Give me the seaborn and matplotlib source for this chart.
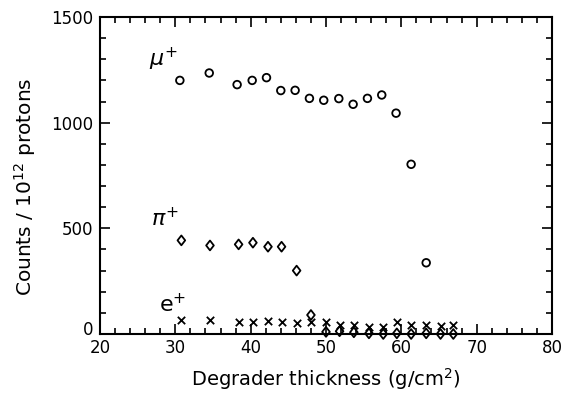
import matplotlib
matplotlib.use("Agg")
import matplotlib.pyplot as plt
import matplotlib.transforms as mtransforms
from matplotlib.path import Path
import seaborn as sns
import pandas as pd
from matplotlib.ticker import MultipleLocator

# Data
mu_x = [30.6, 34.5, 38.2, 40.2, 42.1, 44.0, 45.9, 47.8, 49.7, 51.7, 53.6, 55.5, 57.4, 59.3, 61.3, 63.3]
mu_y = [1200, 1235, 1180, 1200, 1213, 1152, 1153, 1115, 1106, 1114, 1087, 1115, 1131, 1045, 803, 337]

pi_x = [30.8, 34.6, 38.4, 40.3, 42.3, 44.1, 46.1, 48.0, 50.0, 51.8, 53.7, 55.7, 57.6, 59.4, 61.3, 63.3, 65.2, 66.9]
pi_y = [443, 419, 424, 432, 413, 413, 300, 90, 10, 13, 8, 3, 0, 3, 0, 3, 0, 0]

e_x = [30.8, 34.6, 38.4, 40.3, 42.3, 44.1, 46.1, 48.0, 50.0, 51.8, 53.7, 55.7, 57.6, 59.4, 61.3, 63.3, 65.2, 66.9]
e_y = [66, 66, 55, 55, 63, 57, 51, 55, 58, 43, 43, 35, 35, 58, 43, 43, 40, 43]

x_ticks = [20, 30, 40, 50, 60, 70, 80]
y_ticks = [0, 500, 1000, 1500]

sns.set_theme(style="ticks")
plt.rcParams['font.family'] = ['DejaVu Sans']
plt.rcParams['mathtext.fontset'] = 'dejavusans'

fig = plt.figure(figsize=(5.68, 3.98), dpi=100)
ax = fig.add_axes([100/568, 64/398, 452/568, 317/398])

mu = pd.DataFrame({"x": mu_x, "y": mu_y})
pi = pd.DataFrame({"x": pi_x, "y": pi_y})
el = pd.DataFrame({"x": e_x, "y": e_y})

diamond = Path([(0, 1), (0.78, 0), (0, -1), (-0.78, 0), (0, 1)],
               [Path.MOVETO, Path.LINETO, Path.LINETO, Path.LINETO, Path.CLOSEPOLY])

sns.scatterplot(data=mu, x="x", y="y", ax=ax, marker="o", s=30,
                facecolor="none", edgecolor="black", linewidth=1.3, zorder=3)
sns.scatterplot(data=pi, x="x", y="y", ax=ax, marker=diamond, s=50,
                facecolor="none", edgecolor="black", linewidth=1.3, zorder=3)
sns.scatterplot(data=el, x="x", y="y", ax=ax, marker="x", s=28,
                color="black", linewidth=1.3, zorder=3)
for coll in ax.collections:
    coll.set_clip_on(False)

ax.set_xlim(20, 80)
ax.set_ylim(0, 1500)
ax.set_xticks(x_ticks)
ax.set_yticks(y_ticks)
ax.xaxis.set_minor_locator(MultipleLocator(2))
ax.yaxis.set_minor_locator(MultipleLocator(100))
ax.tick_params(which="both", direction="in", top=True, right=True,
               color="black", width=1.2, labelsize=12, labelcolor="black")
ax.tick_params(which="major", length=7)
ax.tick_params(which="minor", length=4)
ax.tick_params(axis="y", pad=5)
for s in ax.spines.values():
    s.set_color("black")
    s.set_linewidth(1.5)

# nudge the y "0" label upward like the reference, avoiding the x "20"
fig.canvas.draw()
ylabels = ax.get_yticklabels()
ylabels[0].set_transform(ylabels[0].get_transform() +
                         mtransforms.ScaledTranslation(0, 4/72, fig.dpi_scale_trans))

ax.set_xlabel("Degrader thickness (g/cm$^{2}$)", fontsize=14, color="black", labelpad=7)
ax.set_ylabel("Counts / 10$^{12}$ protons", fontsize=14.5, color="black")
ax.yaxis.set_label_coords(-0.137, 0.465)

ax.text(28.4, 1300, r"$\mu^{+}$", fontsize=16, ha="center", va="center", color="black")
ax.text(28.6, 545, r"$\pi^{+}$", fontsize=16, ha="center", va="center", color="black")
ax.text(29.6, 140, r"e$^{+}$", fontsize=16, ha="center", va="center", color="black")

fig.savefig("out.png", dpi=100)
